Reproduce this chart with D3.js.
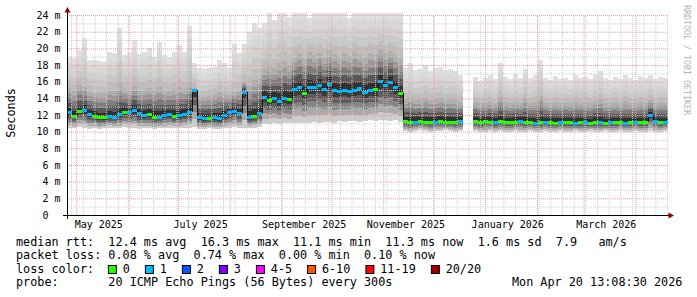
<!DOCTYPE html>
<html>
<head>
<meta charset="utf-8">
<script src="https://cdn.jsdelivr.net/npm/d3@7"></script>
<style>
  html, body { margin: 0; padding: 0; background: #fff; }
  svg { display: block; }
  text { font-family: "DejaVu Sans Mono", monospace; white-space: pre; }
</style>
</head>
<body>
<svg id="chart" width="697" height="297"></svg>
<script>
// time range of the graph, 3-day buckets
const START = new Date(2025, 3, 25, 13, 8);
const END = new Date(2026, 3, 20, 13, 8);
const STEP_DAYS = 3;

// median rtt per bucket (ms), null = no data
const median = [
  12.3, 11.9, 12.5, 12.6, 12.1, 11.9, 11.7, 11.7, 11.9, 11.8, 12.1, 12.4, 12.3, 12.6, 12.2, 12.0, 12.1, 11.8, 11.8, 12.0, 12.1, 11.9, 12.0, 12.1, 12.4, 15.0,
  11.7, 11.6, 11.6, 11.7, 11.6, 12.0, 12.3, 12.5, 12.2, 14.8, 11.7, 11.9, 12.2,
  14.2, 13.8, 14.0, 13.7, 14.1, 13.9,
  15.1, 15.3, 14.6, 15.4, 15.3, 15.6, 15.1, 15.7, 15.0, 14.9, 15.0, 14.9, 15.0, 15.2, 14.8, 15.0, 15.1, 16.1, 15.6, 16.0, 15.3, 14.7,
  11.3, 11.2, 11.2, 11.3, 11.2, 11.2, 11.2, 11.3, 11.2, 11.2, 11.2, 11.3,
  null, null,
  11.3, 11.2, 11.3, 11.2, 11.2, 11.3, 11.2, 11.2, 11.2, 11.3, 11.2, 11.2, 11.1, 11.2, 11.2, 11.2, 11.1, 11.2, 11.2, 11.2,
  11.1, 11.2, 11.2, 11.1, 11.2, 11.2, 11.1, 11.2, 11.2, 11.2, 11.1, 11.2, 11.2, 11.2, 11.2, 12.0, 11.3, 11.2, 11.2
];

// lost pings per bucket (index into loss colours)
const loss = [
  1, 0, 0, 1, 1, 0, 0, 0, 1, 1, 1, 0, 1, 1, 1, 1, 0, 0, 1, 1, 1, 0, 1, 1, 1, 1,
  1, 1, 0, 1, 1, 1, 1, 1, 1, 1, 1, 0, 1,
  1, 0, 1, 1, 1, 0,
  1, 1, 0, 1, 1, 1, 1, 1, 1, 1, 1, 1, 1, 1, 1, 1, 0, 1, 1, 1, 1, 0,
  0, 0, 1, 0, 0, 0, 1, 0, 0, 0, 0, 1,
  0, 0,
  0, 0, 0, 0, 1, 0, 0, 0, 0, 1, 0, 0, 1, 0, 1, 0, 0, 1, 0, 0,
  1, 0, 1, 0, 0, 1, 0, 1, 0, 0, 1, 0, 1, 0, 0, 1, 1, 0, 1
];

// fastest ping per bucket (ms)
const pMin = [
  10.5, 10.4, 10.6, 10.5, 10.3, 10.4, 10.3, 10.4, 10.5, 10.4, 10.4, 10.6, 10.5, 10.5, 10.3, 10.4, 10.4, 10.3, 10.4, 10.4, 10.5, 10.4, 10.4, 10.5, 10.5, 10.6,
  10.3, 10.3, 10.4, 10.3, 10.3, 10.4, 10.5, 10.6, 10.5, 10.5, 10.4, 10.5, 10.6,
  10.9, 10.9, 11.0, 10.9, 11.0, 11.0,
  11.1, 11.1, 11.0, 11.1, 11.2, 11.1, 11.2, 11.2, 11.1, 11.3, 11.2, 11.3, 11.3, 11.2, 11.3, 11.4, 11.3, 11.4, 11.4, 11.3, 11.4, 11.2,
  10.1, 10.0, 10.1, 10.2, 10.1, 10.0, 10.1, 10.1, 10.2, 10.1, 10.0, 10.1,
  null, null,
  10.1, 10.0, 10.0, 10.1, 10.0, 10.1, 10.0, 10.0, 10.1, 10.0, 10.0, 10.1, 10.0, 10.0, 10.1, 10.0, 10.0, 10.1, 10.0, 10.0,
  10.1, 10.0, 10.0, 10.1, 10.0, 10.0, 10.1, 10.0, 10.0, 10.1, 10.0, 10.0, 10.1, 10.0, 10.0, 10.1, 10.0, 10.0, 10.1
];

// upper edge of the dense part of the smoke (ms)
const pMid = [
  15.2, 14.9, 15.6, 15.4, 14.8, 14.7, 14.6, 14.6, 15.0, 14.9, 15.8, 15.1, 15.0, 15.5, 14.9, 15.0, 15.2, 15.0, 15.4, 15.0, 14.9, 15.1, 15.3, 15.1, 16.0, 15.2,
  14.3, 14.2, 14.3, 14.4, 14.8, 14.6, 14.4, 14.8, 14.9, 16.0, 15.5, 16.2, 16.4,
  17.5, 18.0, 17.6, 18.2, 18.5, 18.0,
  19.0, 19.4, 18.8, 19.6, 19.2, 19.5, 18.9, 19.8, 19.3, 19.0, 19.4, 19.1, 19.6, 19.2, 19.0, 19.5, 19.3, 19.9, 19.4, 19.7, 19.2, 18.8,
  13.9, 14.2, 13.8, 13.9, 14.1, 13.8, 13.9, 14.0, 13.8, 13.9, 13.8, 13.6,
  null, null,
  13.6, 13.4, 13.5, 13.7, 13.4, 14.2, 13.6, 13.4, 13.7, 13.5, 14.0, 13.5, 13.6, 14.3, 13.5, 13.4, 13.6, 13.4, 13.5, 13.4,
  13.7, 13.5, 13.6, 13.4, 13.7, 13.9, 13.5, 13.4, 13.6, 13.4, 13.7, 13.5, 13.4, 13.6, 13.5, 13.8, 13.4, 13.6, 13.5
];

// slowest ping per bucket (ms)
const pMax = [
  19.0, 18.8, 19.8, 21.2, 18.6, 18.6, 18.5, 18.4, 19.6, 19.4, 22.5, 19.2, 19.5, 21.0, 19.3, 19.6, 20.0, 19.0, 20.8, 19.2, 19.0, 19.6, 20.4, 19.6, 22.7, 18.2,
  17.6, 17.5, 17.6, 17.8, 18.6, 18.2, 17.7, 20.5, 19.5, 20.5, 22.0, 23.0, 22.5,
  23.0, 24.5, 23.4, 24.5, 24.5, 23.8,
  24.5, 24.5, 24.5, 23.6, 24.5, 24.5, 24.5, 24.5, 24.5, 24.5, 24.5, 23.6, 24.5, 24.5, 24.5, 24.5, 24.5, 24.5, 24.5, 24.5, 24.5, 24.5,
  17.6, 18.2, 17.4, 17.5, 18.0, 17.3, 17.6, 17.8, 17.4, 17.5, 17.3, 16.8,
  null, null,
  16.6, 16.1, 16.4, 16.8, 16.3, 18.2, 16.6, 16.3, 16.9, 16.4, 17.5, 16.5, 16.8, 18.6, 16.4, 16.2, 16.7, 16.3, 16.5, 16.2,
  16.8, 16.4, 16.6, 16.3, 16.9, 17.3, 16.4, 16.2, 16.6, 16.3, 16.8, 16.5, 16.2, 16.7, 16.4, 16.8, 16.3, 16.6, 16.4
];

const lossLabels = ["0", "1", "2", "3", "4-5", "6-10", "11-19", "20/20"];
const lossColors = ["#26ff00", "#00b8ff", "#0059ff", "#7e00ff", "#ff00ff", "#ff5500", "#ff0000", "#a00000"];

const rttStats = [12.4, 16.3, 11.1, 11.3];
const lossStats = [0.08, 0.74, 0.00, 0.10];
const statNames = ["avg", "max", "min", "now"];
const rttSd = 1.6;
const rttAmps = 7.9;
const probeText = "20 ICMP Echo Pings (56 Bytes) every 300s";
const stampText = "Mon Apr 20 13:08:30 2026";

const svg = d3.select("#chart");
svg.append("rect").attr("width", 697).attr("height", 297).attr("fill", "#fff");

const x = d3.scaleTime().domain([START, END]).range([67, 668]);
const y = d3.scaleLinear().domain([0, 24]).range([215, 15]);
const [x0, x1] = x.range();
const [yBot, yTop] = y.range();

svg.append("defs").append("clipPath").attr("id", "plot")
  .append("rect").attr("x", x0).attr("y", yTop - 2)
  .attr("width", x1 - x0).attr("height", yBot - yTop + 2);

const rows = median.map((m, i) => ({
  t0: d3.timeDay.offset(START, i * STEP_DAYS),
  t1: d3.timeDay.offset(START, (i + 1) * STEP_DAYS),
  med: m, lo: pMin[i], mid: pMid[i], hi: pMax[i], loss: loss[i]
})).filter(d => d.med != null);

// smoke: bands getting lighter away from the median
const upperGreys = ["#303030", "#585858", "#7c7c7c", "#999999", "#aeaeae",
                    "#bdbdbd", "#c8c8c8", "#d1d1d1", "#d8d8d8", "#dfdfdf"];
const lowerGreys = ["#3a3a3a", "#5e5e5e", "#858585", "#aaaaaa", "#cccccc"];
const bands = [];
upperGreys.forEach((c, k) => bands.push({
  c, edge: d => k < 5
    ? [d.med + (d.mid - d.med) * k / 5, d.med + (d.mid - d.med) * (k + 1) / 5]
    : [d.mid + (d.hi - d.mid) * (k - 5) / 5, d.mid + (d.hi - d.mid) * (k - 4) / 5]
}));
lowerGreys.forEach((c, k) => bands.push({
  c, edge: d => [d.med - (d.med - d.lo) * (k + 1) / 5, d.med - (d.med - d.lo) * k / 5]
}));

const smoke = svg.append("g").attr("clip-path", "url(#plot)").attr("shape-rendering", "crispEdges");
bands.forEach(b => {
  smoke.append("g").attr("fill", b.c)
    .selectAll("rect").data(rows).join("rect")
    .attr("x", d => Math.round(x(d.t0)))
    .attr("width", d => Math.round(x(d.t1)) - Math.round(x(d.t0)))
    .attr("y", d => Math.round(y(b.edge(d)[1])))
    .attr("height", d => Math.round(y(b.edge(d)[0])) - Math.round(y(b.edge(d)[1])));
});

// grid
function styleGrid(g, color) {
  g.select(".domain").remove();
  g.selectAll("text").remove();
  g.selectAll("line").attr("stroke", color).attr("stroke-dasharray", "1,1");
}
svg.append("g").attr("transform", `translate(${x0},0)`)
  .call(d3.axisLeft(y).tickValues(y.ticks(24).filter(v => v % 2)).tickSize(-(x1 - x0)).tickFormat(""))
  .call(g => styleGrid(g, "#cfcfcf"));
svg.append("g").attr("transform", `translate(0,${yBot})`)
  .call(d3.axisBottom(x).tickValues(d3.timeMonday.range(START, END)).tickSize(-(yBot - yTop)).tickFormat(""))
  .call(g => styleGrid(g, "#cfcfcf"));
svg.append("g").attr("transform", `translate(${x0},0)`)
  .call(d3.axisLeft(y).tickValues(y.ticks(12).filter(v => v > 0)).tickSize(-(x1 - x0)).tickFormat(""))
  .call(g => styleGrid(g, "#f09a9a"));
svg.append("g").attr("transform", `translate(0,${yBot})`)
  .call(d3.axisBottom(x).tickValues(d3.timeMonth.range(START, END)).tickSize(-(yBot - yTop)).tickFormat(""))
  .call(g => styleGrid(g, "#f09a9a"));

// median line, coloured by loss
const medG = svg.append("g").attr("clip-path", "url(#plot)");
rows.forEach((d, i) => {
  const n = rows[i + 1];
  if (n && +n.t0 === +d.t1) {
    medG.append("line")
      .attr("x1", Math.round(x(d.t1)) + 0.5).attr("x2", Math.round(x(d.t1)) + 0.5)
      .attr("y1", y(d.med)).attr("y2", y(n.med))
      .attr("stroke", "#111").attr("stroke-width", 1);
  }
});
medG.append("g").attr("shape-rendering", "crispEdges")
  .selectAll("rect").data(rows).join("rect")
  .attr("x", d => Math.round(x(d.t0)))
  .attr("width", d => Math.round(x(d.t1)) - Math.round(x(d.t0)))
  .attr("y", d => Math.round(y(d.med)) - 1)
  .attr("height", 3)
  .attr("fill", d => lossColors[d.loss]);

// axes
svg.append("line").attr("x1", x0 - 4).attr("x2", x1 + 3).attr("y1", yBot + 0.5).attr("y2", yBot + 0.5)
  .attr("stroke", "#000");
svg.append("line").attr("x1", x0 + 0.5).attr("x2", x0 + 0.5).attr("y1", yBot + 4).attr("y2", yTop - 4)
  .attr("stroke", "#000");
svg.append("path").attr("d", `M${x0 + 0.5},${yTop - 8}L${x0 - 2.5},${yTop - 2.5}L${x0 + 3.5},${yTop - 2.5}Z`)
  .attr("fill", "#8b0000");
svg.append("path").attr("d", `M${x1 + 6},${yBot + 0.5}L${x1 + 0.5},${yBot - 2.5}L${x1 + 0.5},${yBot + 3.5}Z`)
  .attr("fill", "#8b0000");

// y tick labels
svg.append("g").attr("transform", `translate(${x0},0)`)
  .call(d3.axisLeft(y).tickValues(y.ticks(12)).tickSize(0).tickPadding(6.5)
    .tickFormat(v => v === 0 ? "0  " : v + " m"))
  .call(g => g.select(".domain").remove())
  .call(g => g.selectAll("text").attr("font-family", "DejaVu Sans Mono").attr("font-size", 10)
    .attr("fill", "#000").attr("xml:space", "preserve"));

// x labels, every second month
const labelMonths = d3.timeMonth.range(START, END).filter(m => m.getMonth() % 2 === 0);
svg.append("g").attr("transform", `translate(0,${yBot})`)
  .call(d3.axisBottom(x).tickValues(labelMonths.map(m => d3.timeHour.offset(m, 318)))
    .tickSize(0).tickFormat(d3.timeFormat("%B %Y")))
  .call(g => g.select(".domain").remove())
  .call(g => g.selectAll("text").attr("font-family", "DejaVu Sans Mono").attr("font-size", 10)
    .attr("fill", "#000").attr("y", 13).attr("dy", null));

// axis title and watermark
svg.append("text").attr("transform", "translate(15,113) rotate(-90)")
  .attr("text-anchor", "middle").attr("font-size", 11.8).attr("fill", "#000").text("Seconds");
svg.append("text").attr("transform", "translate(684,5) rotate(90)")
  .attr("font-size", 8.3).attr("fill", "#b4b4b4").text("RRDTOOL / TOBI OETIKER");

// legend
const LX = 16, CW = 7.105;
const lines = [
  "median rtt:  " + rttStats.map((v, i) => v.toFixed(1) + " ms " + statNames[i]).join("  ")
    + "  " + rttSd.toFixed(1) + " ms sd  " + rttAmps.toFixed(1) + "   am/s",
  "packet loss: " + lossStats.map((v, i) => v.toFixed(2) + " % " + statNames[i]).join("  "),
  "loss color:",
  "probe:       " + probeText
];
const baselines = [245.5, 259, 272.5, 286];
lines.forEach((l, i) => {
  svg.append("text").attr("x", LX).attr("y", baselines[i]).attr("xml:space", "preserve")
    .attr("font-size", 11.8).attr("fill", "#000").text(l);
});
svg.append("text").attr("x", LX + 69.8 * CW).attr("y", baselines[3]).attr("xml:space", "preserve")
  .attr("font-size", 11.8).attr("fill", "#000").text(stampText);

let bx = LX + 13 * CW - 0.5;
lossLabels.forEach((lab, i) => {
  svg.append("rect").attr("x", bx + 0.5).attr("y", 265.5).attr("width", 8).attr("height", 8)
    .attr("fill", lossColors[i]).attr("stroke", "#000").attr("stroke-width", 1);
  const tx = bx + 14.8;
  svg.append("text").attr("x", tx).attr("y", baselines[2]).attr("font-size", 11.8)
    .attr("fill", "#000").text(lab);
  bx = tx + lab.length * CW + 15.1;
});
</script>
</body>
</html>
